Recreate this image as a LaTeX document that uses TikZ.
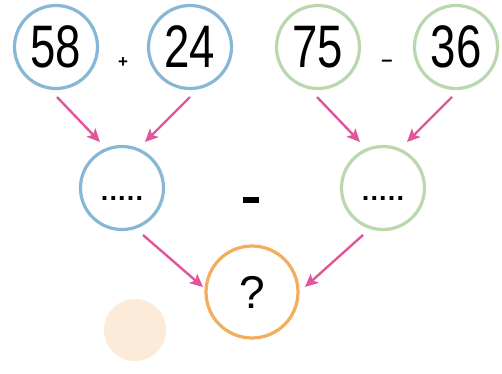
\documentclass[tikz,border=0pt]{standalone}
\usepackage{fontspec}
\setmainfont{Liberation Sans}
\usetikzlibrary{arrows.meta,calc}
\definecolor{cblue}{HTML}{86B8D6}
\definecolor{cgreen}{HTML}{B9D8AE}
\definecolor{corange}{HTML}{F2AE5C}
\definecolor{cpink}{HTML}{E2559B}
\definecolor{cpeach}{HTML}{FDEBD9}
\newcommand{\fivedots}{.\kern1.2pt.\kern1.2pt.\kern1.2pt.\kern1.2pt.}
\tikzset{
  num/.style={circle,line width=3.2pt,minimum size=83pt,inner sep=0pt,font=\fontsize{60}{60}\selectfont},
  mid/.style={circle,line width=3.2pt,minimum size=83pt,inner sep=0pt,font=\bfseries\fontsize{27}{27}\selectfont},
  res/.style={circle,line width=3.2pt,minimum size=92pt,inner sep=0pt,font=\fontsize{46}{46}\selectfont},
  arr/.style={draw=cpink,line width=2.4pt,-{Stealth[length=13pt,width=12pt,inset=3pt]}},
  op/.style={inner sep=0pt}
}
\begin{document}
\begin{tikzpicture}[x=1pt,y=-1pt]
\useasboundingbox[fill=white] (0,0) rectangle (502,373);
\node[num,draw=cblue] (n58) at (56,47) {\scalebox{0.76}[1]{58}};
\node[num,draw=cblue] (n24) at (190,47) {\scalebox{0.76}[1]{24}};
\node[num,draw=cgreen] (n75) at (318,47) {\scalebox{0.76}[1]{75}};
\node[num,draw=cgreen] (n36) at (456,47) {\scalebox{0.76}[1]{36}};
\node[op,font=\bfseries\fontsize{17}{17}\selectfont] (plus) at (123,63) {+};
\node[op,font=\bfseries\fontsize{20}{20}\selectfont] (minus1) at (387,63) {–};
\node[mid,draw=cblue] (m1) at (122,188) {\raisebox{-12pt}[0pt][0pt]{\fivedots}};
\node[mid,draw=cgreen] (m2) at (383,188) {\raisebox{-12pt}[0pt][0pt]{\fivedots}};
\node[op] (minus2) at (251,200) {\rule{16pt}{5.5pt}};
\node[circle,fill=cpeach,minimum size=62pt,inner sep=0pt] (peach) at (135,330) {};
\node[res,draw=corange] (q) at (252,292) {?};
\draw[arr] ($(n58.center)+(1,50)$) -- ($(m1.center)+(-22,-46)$);
\draw[arr] ($(n24.center)+(0,50)$) -- ($(m1.center)+(23,-46)$);
\draw[arr] ($(n75.center)+(-1,50)$) -- ($(m2.center)+(-23,-46)$);
\draw[arr] ($(n36.center)+(-4,50)$) -- ($(m2.center)+(24,-46)$);
\draw[arr] ($(m1.center)+(21,47)$) -- ($(q.center)+(-49,-5)$);
\draw[arr] ($(m2.center)+(-20,47)$) -- ($(q.center)+(53,-5)$);
\end{tikzpicture}
\end{document}
